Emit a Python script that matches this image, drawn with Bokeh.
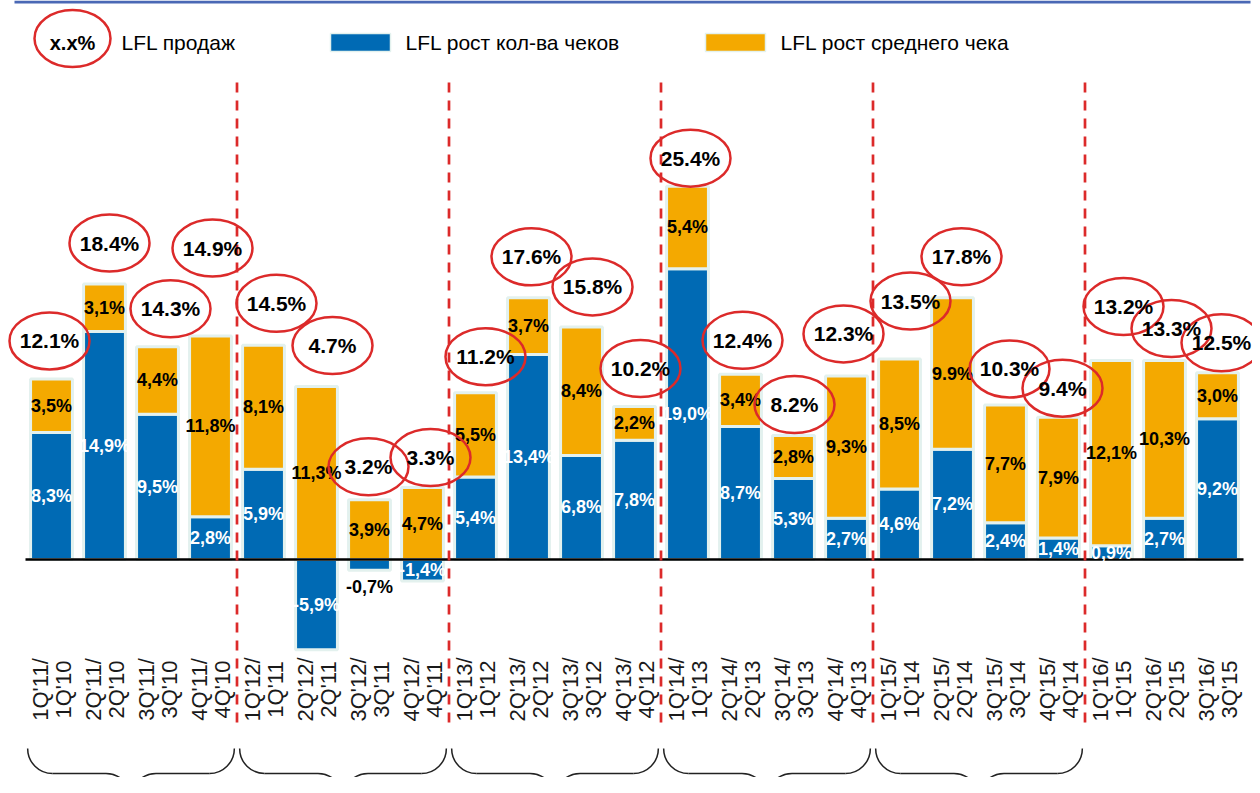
import math
from bokeh.plotting import figure
from bokeh.models import Range1d, ColumnDataSource
from bokeh.core.properties import value
from bokeh.embed import file_html
from bokeh.resources import INLINE

# ---------------- data ----------------
quarters = ["1Q'11", "2Q'11", "3Q'11", "4Q'11",
            "1Q'12", "2Q'12", "3Q'12", "4Q'12",
            "1Q'13", "2Q'13", "3Q'13", "4Q'13",
            "1Q'14", "2Q'14", "3Q'14", "4Q'14",
            "1Q'15", "2Q'15", "3Q'15", "4Q'15",
            "1Q'16", "2Q'16", "3Q'16"]
base_quarters = ["1Q'10", "2Q'10", "3Q'10", "4Q'10",
                 "1Q'11", "2Q'11", "3Q'11", "4Q'11",
                 "1Q'12", "2Q'12", "3Q'12", "4Q'12",
                 "1Q'13", "2Q'13", "3Q'13", "4Q'13",
                 "1Q'14", "2Q'14", "3Q'14", "4Q'14",
                 "1Q'15", "2Q'15", "3Q'15"]
checks_growth = [8.3, 14.9, 9.5, 2.8, 5.9, -5.9, -0.7, -1.4, 5.4, 13.4, 6.8, 7.8,
                 19.0, 8.7, 5.3, 2.7, 4.6, 7.2, 2.4, 1.4, 0.9, 2.7, 9.2]
avg_check_growth = [3.5, 3.1, 4.4, 11.8, 8.1, 11.3, 3.9, 4.7, 5.5, 3.7, 8.4, 2.2,
                    5.4, 3.4, 2.8, 9.3, 8.5, 9.9, 7.7, 7.9, 12.1, 10.3, 3.0]
lfl_sales = [12.1, 18.4, 14.3, 14.9, 14.5, 4.7, 3.2, 3.3, 11.2, 17.6, 15.8, 10.2,
             25.4, 12.4, 8.2, 12.3, 13.5, 17.8, 10.3, 9.4, 13.2, 13.3, 12.5]

# ---------------- layout / style ----------------
W, H = 1252, 777
X0_PX, XS = 51, 53.0      # px of first bar centre, px per category
Y0_PX, YS = 559, 15.3     # px of zero, px per percent

# placement offsets of the "LFL продаж" ellipses (screen px: right, up from bar top)
ell_dx = [-2, 5, 13, 2, 13, 16, -1, 8, 10, 3, 11, 6, 3, 2, 1, -3, 11, 9, 4, 4, 12, 7, 4]
ell_dy = [38, 41, 38, 88, 42, 41, 33, 30, 36, 41, 40, 38, 28, 34, 31, 42, 58, 41, 36, 29, 54, 32, 30]

BLUE = "#006ab4"
ORANGE = "#f4a900"
EDGE = "#e3f1ee"
RED = "#dc2a2a"
FONT = value("Liberation Sans")


def xd(px):
    return (px - X0_PX) / XS


def yd(py):
    return (Y0_PX - py) / YS


p = figure(width=W, height=H, output_backend="svg", toolbar_location=None,
           x_range=Range1d(-X0_PX / XS, (W - X0_PX) / XS),
           y_range=Range1d(-(H - Y0_PX) / YS, Y0_PX / YS),
           min_border=0, x_axis_location=None, y_axis_location=None)
p.grid.visible = False
p.outline_line_color = None
p.background_fill_color = "white"

n = len(quarters)
xs = list(range(n))
orange_bottom = [max(b, 0) for b in checks_growth]
orange_top = [ob + o for ob, o in zip(orange_bottom, avg_check_growth)]

# top blue rule
p.segment(x0=[xd(14)], y0=[yd(1.5)], x1=[xd(1250)], y1=[yd(1.5)],
          line_color="#4a68b5", line_width=3)

# bars
p.vbar(x=xs, bottom=0, top=checks_growth, width=0.79, fill_color=BLUE,
       line_color=EDGE, line_width=3)
p.vbar(x=xs, bottom=orange_bottom, top=orange_top, width=0.79, fill_color=ORANGE,
       line_color=EDGE, line_width=3)

# zero line
p.segment(x0=[xd(25)], y0=[0], x1=[xd(1243)], y1=[0], line_color="black", line_width=2.5)

# dashed year separators
seps = [3.5, 7.5, 11.5, 15.5, 19.5]
p.segment(x0=seps, y0=[yd(82)] * 5, x1=seps, y1=[yd(722)] * 5,
          line_color=RED, line_width=2.7, line_dash="10 8")


def fmt_comma(v):
    return ("%.1f" % v).replace(".", ",") + "%"


# segment labels
bl_x, bl_y, bl_t, bl_c = [], [], [], []
for i, b in enumerate(checks_growth):
    bl_x.append(i)
    if b < 0 and abs(b) < 1:
        bl_y.append(b - 17 / YS)
        bl_c.append("black")
    else:
        bl_y.append(b / 2)
        bl_c.append("white")
    bl_t.append(fmt_comma(b))
or_t = [fmt_comma(v) for v in avg_check_growth]
or_t[17] = "9.9%"   # written with a dot in the original
or_y = [(ob + ot) / 2 for ob, ot in zip(orange_bottom, orange_top)]

seg_src = ColumnDataSource(dict(x=bl_x + xs, y=bl_y + or_y, t=bl_t + or_t,
                                c=bl_c + ["black"] * n))
p.text(x="x", y="y", text="t", text_color="c", source=seg_src,
       text_font=FONT, text_font_size=value("18px"), text_font_style="bold",
       text_align="center", text_baseline="middle")

# total LFL ellipses
ex = [i + dx / XS for i, dx in enumerate(ell_dx)]
ey = [t + dy / YS for t, dy in zip(orange_top, ell_dy)]
p.ellipse(x=ex, y=ey, width=80, height=57, width_units="screen", height_units="screen",
          fill_color=None, line_color=RED, line_width=2.5)
p.text(x=ex, y=ey, text=["%.1f%%" % v for v in lfl_sales], text_color="black",
       text_font=FONT, text_font_size=value("21px"), text_font_style="bold",
       text_align="center", text_baseline="middle")

# category labels (two rotated lines)
lab_y = yd(689)
p.text(x=[i - 11.5 / XS for i in xs], y=[lab_y] * n, text=[q + "/" for q in quarters],
       angle=math.pi / 2, text_color="#1a1a1a", text_font=FONT,
       text_font_size=value("22px"), text_align="center", text_baseline="middle")
p.text(x=[i + 11.5 / XS for i in xs], y=[lab_y] * n, text=base_quarters,
       angle=math.pi / 2, text_color="#1a1a1a", text_font=FONT,
       text_font_size=value("22px"), text_align="center", text_baseline="middle")

# curly braces under full years
k = 0.552
c = 25 / XS
h = 25 / YS
y_top, y_mid = yd(748), yd(773)
y_tip = y_mid - h
bz = dict(x0=[], y0=[], x1=[], y1=[], cx0=[], cy0=[], cx1=[], cy1=[])
sg = dict(x0=[], y0=[], x1=[], y1=[])


def add_bz(a, b, c0, c1):
    bz["x0"].append(a[0]); bz["y0"].append(a[1])
    bz["x1"].append(b[0]); bz["y1"].append(b[1])
    bz["cx0"].append(c0[0]); bz["cy0"].append(c0[1])
    bz["cx1"].append(c1[0]); bz["cy1"].append(c1[1])


for g in range(5):
    xl = 4 * g - 0.5 + 0.05
    xr = 4 * g + 3.5 - 0.05
    xm = (xl + xr) / 2
    add_bz((xl, y_top), (xl + c, y_mid), (xl, y_top - k * h), (xl + c - k * c, y_mid))
    add_bz((xr, y_top), (xr - c, y_mid), (xr, y_top - k * h), (xr - c + k * c, y_mid))
    add_bz((xm - c, y_mid), (xm, y_tip), (xm - c + k * c, y_mid), (xm, y_tip + k * h))
    add_bz((xm + c, y_mid), (xm, y_tip), (xm + c - k * c, y_mid), (xm, y_tip + k * h))
    sg["x0"] += [xl + c, xm + c]; sg["y0"] += [y_mid, y_mid]
    sg["x1"] += [xm - c, xr - c]; sg["y1"] += [y_mid, y_mid]

p.bezier(source=ColumnDataSource(bz), x0="x0", y0="y0", x1="x1", y1="y1",
         cx0="cx0", cy0="cy0", cx1="cx1", cy1="cy1", line_color="#222222", line_width=1.5)
p.segment(source=ColumnDataSource(sg), x0="x0", y0="y0", x1="x1", y1="y1",
          line_color="#222222", line_width=1.5)

# legend
p.ellipse(x=[xd(72)], y=[yd(38)], width=76, height=57, width_units="screen",
          height_units="screen", fill_color=None, line_color=RED, line_width=2.5)
p.text(x=[xd(72)], y=[yd(42)], text=["x.x%"], text_font=FONT, text_font_size=value("20px"),
       text_font_style="bold", text_align="center", text_baseline="middle", text_color="black")
p.quad(left=[xd(330), xd(705)], right=[xd(390), xd(765)], top=[yd(33)] * 2,
       bottom=[yd(51)] * 2, fill_color=[BLUE, ORANGE], line_color=EDGE, line_width=1.5)
p.text(x=[xd(121), xd(405), xd(780)], y=[yd(42)] * 3,
       text=["LFL продаж", "LFL рост кол-ва чеков", "LFL рост среднего чека"],
       text_font=FONT, text_font_size=value("21px"), text_align="left",
       text_baseline="middle", text_color="black")

open("out.html", "w").write(file_html(p, INLINE))
